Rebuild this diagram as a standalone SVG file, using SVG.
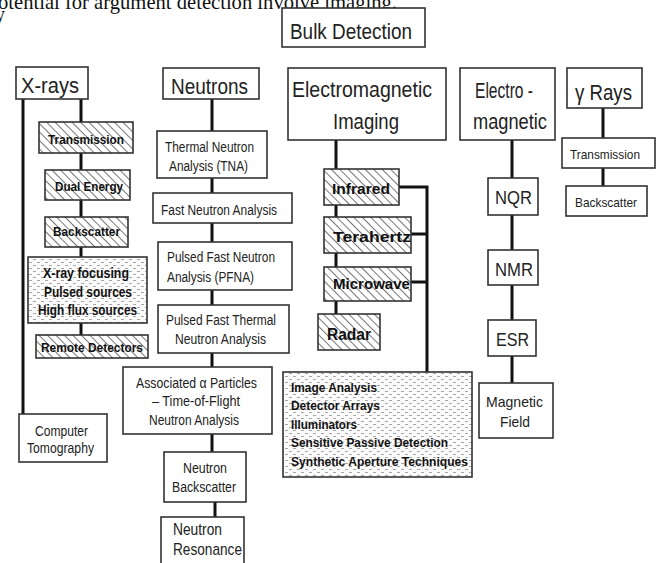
<svg xmlns="http://www.w3.org/2000/svg" width="659" height="563" viewBox="0 0 659 563">
<defs>
<pattern id="hatch" patternUnits="userSpaceOnUse" width="6" height="6" patternTransform="rotate(-45)">
<rect width="6" height="6" fill="#fff"/>
<line x1="0" y1="0" x2="0" y2="6" stroke="#777" stroke-width="2"/>
</pattern>
<pattern id="dots" patternUnits="userSpaceOnUse" width="8" height="6">
<rect width="8" height="6" fill="#fbfbfb"/>
<line x1="1" y1="1.5" x2="4" y2="1.5" stroke="#a8a8a8" stroke-width="1"/>
<line x1="5" y1="4.5" x2="8" y2="4.5" stroke="#a8a8a8" stroke-width="1"/>
</pattern>
<style>
.box{fill:#fff;stroke:#333;stroke-width:1.6}
.hatch{fill:url(#hatch);stroke:#333;stroke-width:1.6}
.dots{fill:url(#dots);stroke:#333;stroke-width:1.6}
.conn{stroke:#111;stroke-width:3;fill:none}
text{font-family:"Liberation Sans",Arial,sans-serif;fill:#222;text-anchor:middle}
.big{font-size:22px}
.mid{font-size:14px}
.sm{font-size:13px}
.b{font-weight:bold;fill:#111}
.l{text-anchor:start}
.serif{font-family:"Liberation Serif","Times New Roman",serif;fill:#111;text-anchor:start}
</style>
</defs>
<rect width="659" height="563" fill="#fff"/>
<text class="serif" x="-2" y="9" font-size="21" textLength="399" lengthAdjust="spacingAndGlyphs">otential for argument detection involve imaging.</text>
<text class="serif" x="-5" y="21" font-size="20">y</text>

<g id="connectors">
<line class="conn" x1="23" y1="99" x2="23" y2="414"/>
<line class="conn" x1="81" y1="99" x2="81" y2="335"/>
<line class="conn" x1="212" y1="99" x2="212" y2="452"/>
<line class="conn" x1="215" y1="502" x2="215" y2="517"/>
<line class="conn" x1="336" y1="140" x2="336" y2="314"/>
<polyline class="conn" points="399,187 427,187 427,372"/>
<line class="conn" x1="411" y1="234" x2="427" y2="234"/>
<line class="conn" x1="411" y1="282" x2="427" y2="282"/>
<line class="conn" x1="512" y1="140" x2="512" y2="383"/>
<line class="conn" x1="603" y1="108" x2="603" y2="186"/>
</g>

<g id="bulk"><rect class="box" x="282" y="8" width="143" height="39"/><text class="big" x="351" y="39" font-size="20" textLength="122" lengthAdjust="spacingAndGlyphs">Bulk Detection</text></g>

<g id="xrays"><rect class="box" x="16" y="67" width="72" height="32"/><text class="big" x="50" y="93" font-size="23" textLength="58" lengthAdjust="spacingAndGlyphs">X-rays</text></g>
<g id="x-transmission"><rect class="hatch" x="39" y="122" width="94" height="31"/><text class="sm b" x="86" y="144" textLength="76" lengthAdjust="spacingAndGlyphs">Transmission</text></g>
<g id="x-dual"><rect class="hatch" x="45" y="170" width="85" height="30"/><text class="sm b" x="89" y="191" textLength="68" lengthAdjust="spacingAndGlyphs">Dual Energy</text></g>
<g id="x-backscatter"><rect class="hatch" x="45" y="217" width="83" height="30"/><text class="sm b" x="86.5" y="236" textLength="67" lengthAdjust="spacingAndGlyphs">Backscatter</text></g>
<g id="x-sources"><rect class="dots" x="28" y="257" width="119" height="66"/>
<text class="mid b" x="86" y="278" textLength="86" lengthAdjust="spacingAndGlyphs">X-ray focusing</text>
<text class="mid b" x="88" y="297" textLength="88" lengthAdjust="spacingAndGlyphs">Pulsed sources</text>
<text class="mid b" x="87.5" y="315" textLength="99" lengthAdjust="spacingAndGlyphs">High flux sources</text></g>
<g id="x-remote"><rect class="hatch" x="36" y="335" width="112" height="23"/><text class="sm b" x="92" y="352" textLength="102" lengthAdjust="spacingAndGlyphs">Remote Detectors</text></g>
<g id="x-ct"><rect class="box" x="19" y="414" width="88" height="48"/>
<text class="mid" x="61.5" y="436" font-size="15" textLength="53" lengthAdjust="spacingAndGlyphs">Computer</text>
<text class="mid" x="60.5" y="453" font-size="15" textLength="67" lengthAdjust="spacingAndGlyphs">Tomography</text></g>

<g id="neutrons"><rect class="box" x="163" y="68" width="96" height="31"/><text class="big" x="209.5" y="94" textLength="77" lengthAdjust="spacingAndGlyphs">Neutrons</text></g>
<g id="n-tna"><rect class="box" x="157" y="131" width="110" height="47"/>
<text class="mid" x="209.5" y="152" textLength="89" lengthAdjust="spacingAndGlyphs">Thermal Neutron</text>
<text class="mid" x="208.5" y="171" textLength="79" lengthAdjust="spacingAndGlyphs">Analysis (TNA)</text></g>
<g id="n-fna"><rect class="box" x="153" y="193" width="139" height="30"/><text class="mid" x="219" y="215" textLength="116" lengthAdjust="spacingAndGlyphs">Fast Neutron Analysis</text></g>
<g id="n-pfna"><rect class="box" x="158" y="242" width="134" height="48"/>
<text class="mid l" x="167" y="262" textLength="108" lengthAdjust="spacingAndGlyphs">Pulsed Fast Neutron</text>
<text class="mid l" x="167" y="282" textLength="87" lengthAdjust="spacingAndGlyphs">Analysis (PFNA)</text></g>
<g id="n-pftna"><rect class="box" x="158" y="305" width="131" height="48"/>
<text class="mid" x="221" y="325" textLength="110" lengthAdjust="spacingAndGlyphs">Pulsed Fast Thermal</text>
<text class="mid" x="220.5" y="344" textLength="91" lengthAdjust="spacingAndGlyphs">Neutron Analysis</text></g>
<g id="n-alpha"><rect class="box" x="123" y="367" width="149" height="67"/>
<text class="mid" x="196.5" y="388" textLength="121" lengthAdjust="spacingAndGlyphs">Associated α Particles</text>
<text class="mid" x="196" y="406" textLength="88" lengthAdjust="spacingAndGlyphs">– Time-of-Flight</text>
<text class="mid" x="194" y="425" textLength="90" lengthAdjust="spacingAndGlyphs">Neutron Analysis</text></g>
<g id="n-backscatter"><rect class="box" x="164" y="452" width="82" height="50"/>
<text class="mid" x="205" y="473" textLength="44" lengthAdjust="spacingAndGlyphs">Neutron</text>
<text class="mid" x="204" y="492" textLength="64" lengthAdjust="spacingAndGlyphs">Backscatter</text></g>
<g id="n-resonance"><rect class="box" x="161" y="517" width="83" height="60"/>
<text class="l" x="173" y="535" font-size="17" textLength="49" lengthAdjust="spacingAndGlyphs">Neutron</text>
<text class="l" x="173" y="555" font-size="17" textLength="69" lengthAdjust="spacingAndGlyphs">Resonance</text></g>

<g id="em-imaging"><rect class="box" x="288" y="68" width="158" height="72"/>
<text class="big" x="362" y="97" textLength="140" lengthAdjust="spacingAndGlyphs">Electromagnetic</text>
<text class="big" x="366" y="129" textLength="66" lengthAdjust="spacingAndGlyphs">Imaging</text></g>
<g id="infrared"><rect class="hatch" x="324" y="169" width="75" height="36"/><text class="b" x="361" y="194" font-size="15" textLength="58" lengthAdjust="spacingAndGlyphs">Infrared</text></g>
<g id="terahertz"><rect class="hatch" x="324" y="217" width="87" height="36"/><text class="b" x="372" y="242" font-size="15" textLength="78" lengthAdjust="spacingAndGlyphs">Terahertz</text></g>
<g id="microwave"><rect class="hatch" x="324" y="267" width="87" height="34"/><text class="b" x="371.5" y="289" font-size="15" textLength="77" lengthAdjust="spacingAndGlyphs">Microwave</text></g>
<g id="radar"><rect class="hatch" x="318" y="314" width="62" height="36"/><text class="b" x="349" y="340" font-size="16" textLength="44" lengthAdjust="spacingAndGlyphs">Radar</text></g>
<g id="em-techniques"><rect class="dots" x="283" y="372" width="189" height="105"/>
<text class="sm b l" x="291" y="392" textLength="86" lengthAdjust="spacingAndGlyphs">Image Analysis</text>
<text class="sm b l" x="291" y="410" textLength="89" lengthAdjust="spacingAndGlyphs">Detector Arrays</text>
<text class="sm b l" x="291" y="429" textLength="66" lengthAdjust="spacingAndGlyphs">Illuminators</text>
<text class="sm b l" x="291" y="447" textLength="157" lengthAdjust="spacingAndGlyphs">Sensitive Passive Detection</text>
<text class="sm b l" x="291" y="466" textLength="177" lengthAdjust="spacingAndGlyphs">Synthetic Aperture Techniques</text></g>

<g id="electromagnetic"><rect class="box" x="460" y="68" width="95" height="72"/>
<text class="big" x="504" y="98" textLength="58" lengthAdjust="spacingAndGlyphs">Electro -</text>
<text class="big" x="510" y="129" textLength="74" lengthAdjust="spacingAndGlyphs">magnetic</text></g>
<g id="nqr"><rect class="box" x="488" y="178" width="50" height="37"/><text x="513.5" y="204" font-size="18" textLength="37" lengthAdjust="spacingAndGlyphs">NQR</text></g>
<g id="nmr"><rect class="box" x="488" y="250" width="50" height="35"/><text x="514" y="276" font-size="18" textLength="38" lengthAdjust="spacingAndGlyphs">NMR</text></g>
<g id="esr"><rect class="box" x="488" y="320" width="48" height="36"/><text x="512.5" y="346" font-size="18" textLength="33" lengthAdjust="spacingAndGlyphs">ESR</text></g>
<g id="magnetic-field"><rect class="box" x="479" y="383" width="74" height="55"/>
<text x="514.5" y="407" font-size="15" textLength="57" lengthAdjust="spacingAndGlyphs">Magnetic</text>
<text x="515" y="427" font-size="15" textLength="30" lengthAdjust="spacingAndGlyphs">Field</text></g>

<g id="gamma"><rect class="box" x="567" y="68" width="75" height="40"/><text class="big" x="603.5" y="100" textLength="57" lengthAdjust="spacingAndGlyphs">γ Rays</text></g>
<g id="g-transmission"><rect class="box" x="562" y="138" width="93" height="30"/><text class="sm" x="605" y="159" textLength="70" lengthAdjust="spacingAndGlyphs">Transmission</text></g>
<g id="g-backscatter"><rect class="box" x="566" y="186" width="81" height="30"/><text class="sm" x="606" y="207" textLength="62" lengthAdjust="spacingAndGlyphs">Backscatter</text></g>
</svg>
